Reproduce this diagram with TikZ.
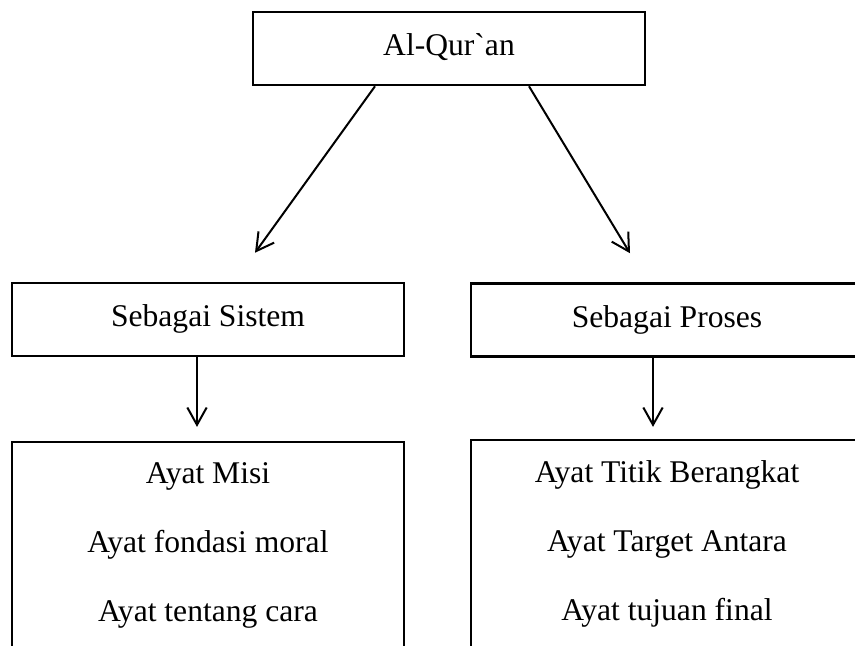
\documentclass[tikz,border=0pt]{standalone}
\usepackage{fontspec}
\setmainfont{Liberation Serif}
\usetikzlibrary{arrows.meta, calc}

\tikzset{
    box/.style={draw, line width=1.9pt, rectangle, minimum width=294pt, minimum height=54.75pt,
        inner sep=0pt, font=\fontsize{23.7}{28}\selectfont, text height=16.6pt, text depth=5.9pt},
    listbox/.style={draw, line width=1.9pt, rectangle, minimum width=294pt, minimum height=155pt,
        inner sep=0pt, align=center, font=\fontsize{23.7}{51.75}\selectfont},
    arr/.style={line width=1.5pt, -{Straight Barb[length=13pt,width=14.5pt]}}
}

\begin{document}
\begin{tikzpicture}[x=0.75pt, y=-0.75pt]
    \useasboundingbox (0,0) rectangle (855,645);
    \clip (0,0) rectangle (855,645);

    \node[box] (quran) at (449,48.5) {Al-Qur\textasciigrave an};

    \node[box] (sistem) at (208,319.5) {Sebagai Sistem};
    \node[box] (proses) at (667,320) {Sebagai Proses};

    \node[listbox] (misi) at (208,545.5) {Ayat Misi\\Ayat fondasi moral\\Ayat tentang cara};
    \node[listbox] (titik) at (667,543.5) {Ayat Titik Berangkat\\Ayat Target Antara\\Ayat tujuan final};

    \draw[arr] ($(quran.south)+(-74,0)$) -- ($(sistem.north)+(47,-29)$);
    \draw[arr] ($(quran.south)+(80,0)$) -- ($(proses.north)+(-37,-29)$);

    \draw[arr] ($(sistem.south)+(-11,0)$) -- ($(misi.north)+(-11,-14)$);
    \draw[arr] ($(proses.south)+(-14,0)$) -- ($(titik.north)+(-14,-12)$);
\end{tikzpicture}
\end{document}
